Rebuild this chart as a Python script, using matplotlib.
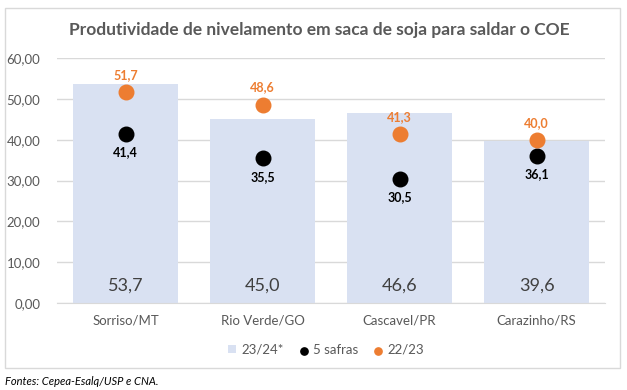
import matplotlib.pyplot as plt
from matplotlib.patches import Rectangle
from matplotlib.ticker import FuncFormatter

plt.rcParams['font.family'] = ['Lato', 'DejaVu Sans']

# dados do gráfico
cidades = ['Sorriso/MT', 'Rio Verde/GO', 'Cascavel/PR', 'Carazinho/RS']
safra_2324 = [53.7, 45.0, 46.6, 39.6]
cinco_safras = [41.4, 35.5, 30.5, 36.1]
safra_2223 = [51.7, 48.6, 41.3, 40.0]

cor_barra = '#D9E1F2'
cor_laranja = '#ED7D31'
cor_texto = '#595959'

def br(v, casas=1):
    return f'{v:.{casas}f}'.replace('.', ',')

fig = plt.figure(figsize=(6.27, 3.9), dpi=100)
ax = fig.add_axes([0.091, 0.223, 0.874, 0.628])

x = range(len(cidades))
b = ax.bar(x, safra_2324, width=0.77, color=cor_barra, label='23/24*', zorder=2)
p1 = ax.scatter(x, cinco_safras, s=110, color='black', label='5 safras', zorder=3)
p2 = ax.scatter(x, safra_2223, s=110, color=cor_laranja, label='22/23', zorder=3)

for i in x:
    ax.annotate(br(safra_2324[i]), (i, 0), xytext=(0, 7), textcoords='offset points',
                ha='center', va='bottom', fontsize=13, color='#404040')
    ax.annotate(br(cinco_safras[i]), (i, cinco_safras[i]), xytext=(0, -9), textcoords='offset points',
                ha='center', va='top', fontsize=9, fontweight='bold', color='black')
    ax.annotate(br(safra_2223[i]), (i, safra_2223[i]), xytext=(0, 8), textcoords='offset points',
                ha='center', va='bottom', fontsize=9, fontweight='bold', color=cor_laranja)

ax.set_xlim(-0.5, len(cidades) - 0.5)
ax.set_ylim(0, 60)
ax.set_yticks(range(0, 61, 10))
ax.yaxis.set_major_formatter(FuncFormatter(lambda v, p: br(v, 2)))
ax.set_xticks(list(x))
ax.set_xticklabels(cidades)
ax.tick_params(axis='both', length=0, labelsize=9.5, colors=cor_texto)
ax.tick_params(axis='x', pad=8)
ax.tick_params(axis='y', pad=12)
ax.grid(axis='y', color='#D9D9D9', linewidth=1, zorder=0)
for s in ['top', 'right', 'left']:
    ax.spines[s].set_visible(False)
ax.spines['bottom'].set_color('#D9D9D9')

fig.text(0.51, 0.923, 'Produtividade de nivelamento em saca de soja para saldar o COE',
         ha='center', va='center', fontsize=12.5, fontweight='bold', color=cor_texto)

leg = fig.legend([b, p1, p2], ['23/24*', '5 safras', '22/23'], loc='center',
                 bbox_to_anchor=(0.52, 0.103), ncol=3, frameon=False,
                 fontsize=9.5, handlelength=0.6, handleheight=0.6, handletextpad=0.4,
                 columnspacing=1.2, markerscale=0.5)
for t in leg.get_texts():
    t.set_color(cor_texto)

# moldura do gráfico
fig.patches.append(Rectangle((5 / 627, 1 - 368 / 390), 615 / 627, 360 / 390,
                             transform=fig.transFigure, fill=False,
                             edgecolor='#D9D9D9', linewidth=1))

fig.text(0.008, 0.023, 'Fontes: Cepea-Esalq/USP e CNA.', ha='left', va='center',
         fontsize=8, style='italic', color='black')

fig.savefig('out.png', dpi=100)
